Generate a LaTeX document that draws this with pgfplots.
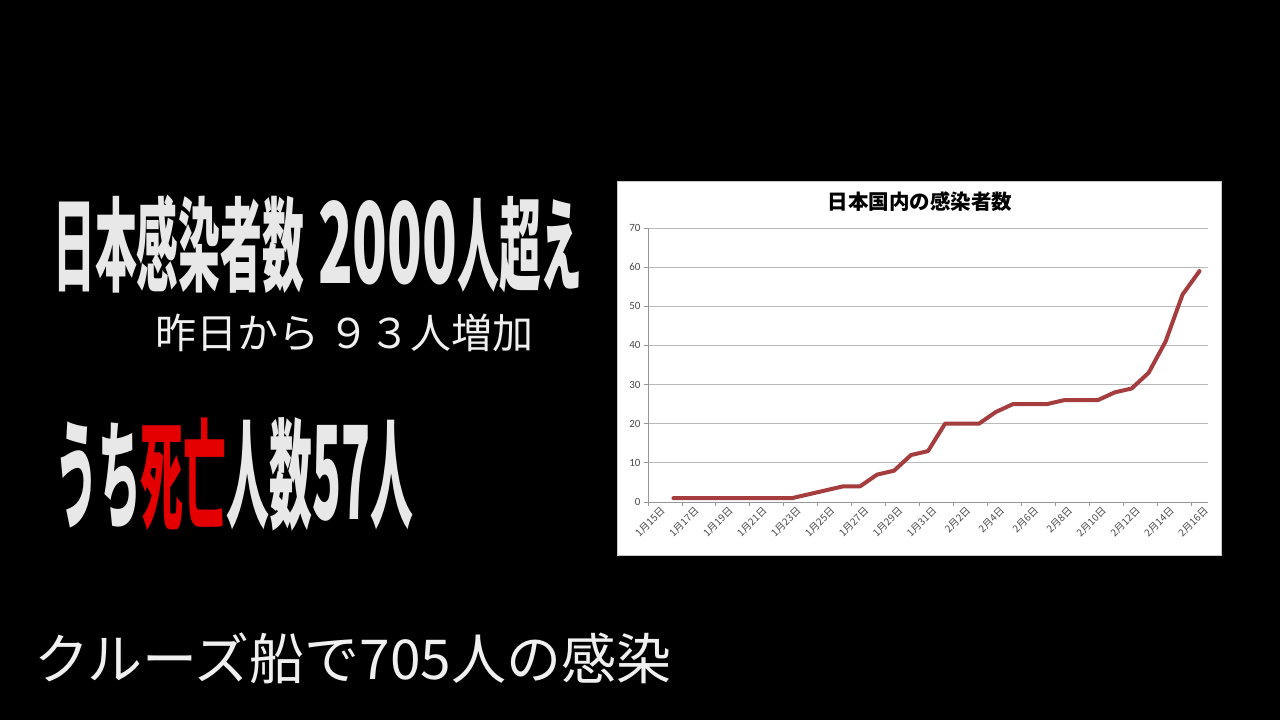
\documentclass[border=0pt]{standalone}
\usepackage{fontspec}
\usepackage{graphicx}
\usepackage{pgfplots}
\pgfplotsset{compat=1.18}
\setmainfont{Noto Sans CJK JP}
\newfontfamily\calibri{Carlito}
\definecolor{bigtext}{RGB}{232,232,232}
\definecolor{smalltext}{RGB}{240,240,240}
\definecolor{deathred}{RGB}{228,0,0}
\definecolor{linered}{RGB}{165,60,62}
\definecolor{axisgray}{RGB}{150,150,150}
\definecolor{gridgray}{RGB}{185,185,185}
\definecolor{labelgray}{RGB}{75,75,75}
\definecolor{framegray}{RGB}{200,200,200}

\begin{document}
\begin{tikzpicture}
\useasboundingbox (0pt,0pt) rectangle (1280pt,720pt);
\fill[black] (0pt,0pt) rectangle (1280pt,720pt);
% chart frame
\fill[white] (617pt,164pt) rectangle (1222pt,539pt);
\draw[framegray, line width=1pt] (617.5pt,164.5pt) rectangle (1221.5pt,538.5pt);

% left texts
\node[anchor=west, inner sep=0pt, text=bigtext] at (53pt,475.5pt)
 {\bfseries\fontsize{102}{102}\selectfont\scalebox{0.41}[1]{日本感染者数}\hspace{14pt}\scalebox{0.56}[1.1]{2000}\scalebox{0.41}[1]{人超え}};
\node[anchor=west, inner sep=0pt, text=smalltext] at (155pt,387pt)
 {\fontsize{41}{41}\selectfont 昨日から ９３人増加};
\node[anchor=west, inner sep=0pt, text=bigtext] at (55pt,246pt)
 {\bfseries\fontsize{119}{119}\selectfont\scalebox{0.36}[1]{うち}\scalebox{0.36}[1]{\textcolor{deathred}{死亡}}\scalebox{0.36}[1]{人数}\scalebox{0.4}[1.09]{57}\scalebox{0.36}[1]{人}};
\node[anchor=west, inner sep=0pt, text=smalltext] at (34pt,62pt)
 {\fontsize{55}{55}\selectfont クルーズ船で705人の感染};

% chart title
\node[font=\bfseries\fontsize{20.5}{20.5}\selectfont, text=black] at (920pt,518pt) {日本国内の感染者数};

\begin{axis}[
  at={(648pt,218pt)}, anchor=south west,
  scale only axis, width=560pt, height=274pt,
  xmin=-0.5, xmax=32.5, ymin=0, ymax=70,
  axis x line=bottom, axis y line=left,
  x axis line style={-}, y axis line style={-},
  axis line style={draw=axisgray, line width=0.8pt},
  xtick={-0.5,1.5,...,31.5},
  xticklabels={1月15日,1月17日,1月19日,1月21日,1月23日,1月25日,1月27日,1月29日,1月31日,2月2日,2月4日,2月6日,2月8日,2月10日,2月12日,2月14日,2月16日},
  x tick label style={rotate=45, anchor=east, inner sep=0pt, font=\fontsize{10}{10}\selectfont, text=labelgray, xshift=9pt, yshift=-12.5pt},
  ytick={0,10,...,70},
  y tick label style={font=\calibri\fontsize{11}{11}\selectfont, text=labelgray},
  /pgf/number format/assume math mode=true,
  tick align=outside, major tick length=4pt,
  tick style={draw=axisgray, line width=0.8pt},
  ymajorgrids, major grid style={draw=gridgray, line width=0.9pt},
  clip=false,
]
\addplot[color=linered, line width=4pt, line cap=round, line join=round] coordinates {
(1,1)(2,1)(3,1)(4,1)(5,1)(6,1)(7,1)(8,1)(9,2)(10,3)(11,4)(12,4)(13,7)(14,8)(15,12)(16,13)
(17,20)(18,20)(19,20)(20,23)(21,25)(22,25)(23,25)(24,26)(25,26)(26,26)(27,28)(28,29)(29,33)(30,41)(31,53)(32,59)
};
\end{axis}
\end{tikzpicture}
\end{document}
